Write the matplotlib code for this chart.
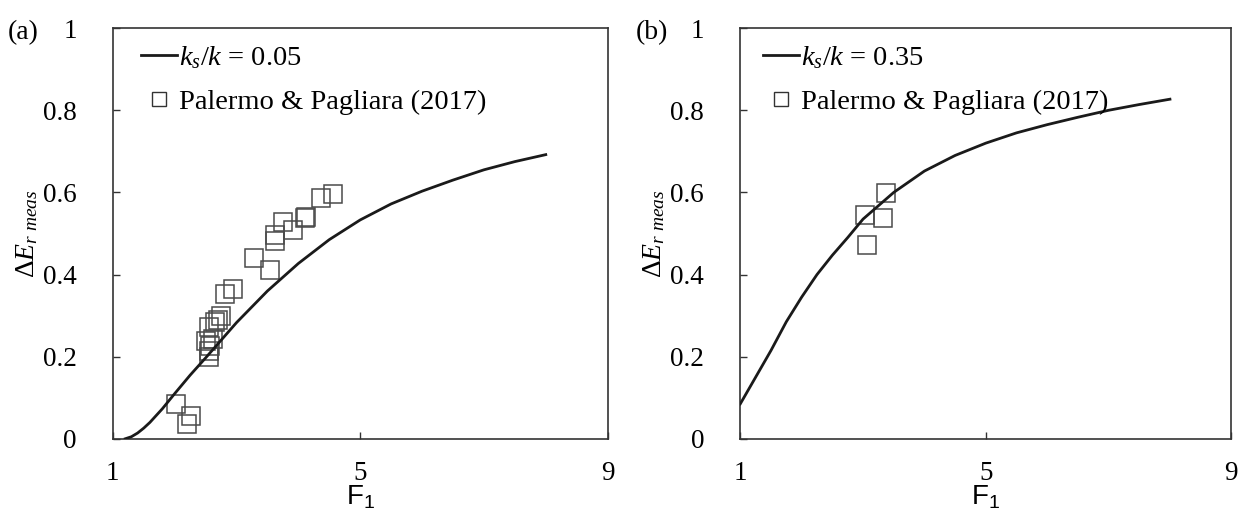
import matplotlib
matplotlib.use('Agg')
import matplotlib.pyplot as plt
from matplotlib.lines import Line2D

plt.rcParams['font.family'] = 'Liberation Serif'
plt.rcParams['mathtext.fontset'] = 'custom'
plt.rcParams['mathtext.rm'] = 'Liberation Serif'
plt.rcParams['mathtext.it'] = 'Liberation Serif:italic'
plt.rcParams['mathtext.sf'] = 'Liberation Sans'

# model curves (F1, dEr)
curve_a_x = [1.2, 1.3, 1.4, 1.5, 1.6, 1.8, 2.0, 2.25, 2.5, 2.75, 3.0, 3.5,
             4.0, 4.5, 5.0, 5.5, 6.0, 6.5, 7.0, 7.5, 8.0]
curve_a_y = [0.0, 0.005, 0.014, 0.026, 0.040, 0.073, 0.11, 0.155, 0.197,
             0.24, 0.283, 0.36, 0.427, 0.485, 0.533, 0.572, 0.603, 0.630,
             0.655, 0.675, 0.692]
curve_b_x = [1.0, 1.25, 1.5, 1.75, 2.0, 2.25, 2.5, 2.75, 3.0, 3.5, 4.0, 4.5,
             5.0, 5.5, 6.0, 6.5, 7.0, 7.5, 8.0]
curve_b_y = [0.085, 0.15, 0.215, 0.285, 0.345, 0.40, 0.447, 0.49, 0.535, 0.60,
             0.652, 0.69, 0.72, 0.745, 0.765, 0.783, 0.80, 0.814, 0.827]

# measured data, Palermo & Pagliara (2017)
meas_a_x = [2.02, 2.27, 2.20, 2.56, 2.55, 2.57, 2.50, 2.62, 2.56, 2.65, 2.70,
            2.75, 2.81, 2.95, 3.28, 3.54, 3.62, 3.63, 3.75, 3.91, 4.10, 4.13,
            4.37, 4.56]
meas_a_y = [0.084, 0.056, 0.036, 0.200, 0.214, 0.226, 0.238, 0.242, 0.273,
            0.285, 0.290, 0.298, 0.353, 0.364, 0.440, 0.411, 0.482, 0.497,
            0.527, 0.509, 0.537, 0.541, 0.587, 0.596]
meas_b_x = [3.03, 3.32, 3.38, 3.06]
meas_b_y = [0.545, 0.537, 0.598, 0.473]

labels = ['$k_s/k$ = 0.05', '$k_s/k$ = 0.35']
panels = ['(a)', '(b)']
ref_label = 'Palermo & Pagliara (2017)'
legend_x = [0.057, 0.047]

fig = plt.figure(figsize=(12.4, 5.12), dpi=100)
ax_a = fig.add_axes([0.091, 0.143, 0.399, 0.802])
ax_b = fig.add_axes([0.597, 0.143, 0.396, 0.802])

data = [(ax_a, curve_a_x, curve_a_y, meas_a_x, meas_a_y),
        (ax_b, curve_b_x, curve_b_y, meas_b_x, meas_b_y)]

for i, (ax, cx, cy, mx, my) in enumerate(data):
    ax.plot(cx, cy, color='#1a1a1a', lw=2.0, zorder=3)
    ax.plot(mx, my, ls='none', marker='s', ms=13, mfc='none',
            mec='#4a4a4a', mew=1.1, zorder=2)

    ax.set_xlim(1, 9)
    ax.set_ylim(0, 1)
    ax.set_xticks([1, 5, 9])
    ax.set_yticks([0, 0.2, 0.4, 0.6, 0.8, 1])
    ax.set_yticklabels(['0', '0.2', '0.4', '0.6', '0.8', '1'])
    ax.tick_params(direction='in', length=5, width=1, color='#333333',
                   labelsize=19.5)
    ax.tick_params(axis='y', pad=26)
    ax.tick_params(axis='x', pad=16)
    for s in ax.spines.values():
        s.set_color('#333333')
        s.set_linewidth(1.2)

    ax.set_xlabel(r'$\mathsf{F_1}$', fontsize=20, labelpad=-1.5)
    ax.set_ylabel(r'$\mathit{Δ}\mathit{E}_{r\ meas}$', fontsize=20, labelpad=2)

    handles = [Line2D([], [], color='#1a1a1a', lw=2.0),
               Line2D([], [], ls='none', marker='s', ms=10, mfc='none',
                      mec='#333333', mew=1.0)]
    ax.legend(handles, [labels[i], ref_label], loc='upper left',
              bbox_to_anchor=(legend_x[i], 0.962), frameon=False,
              fontsize=20.5, handlelength=1.25, handletextpad=0.08,
              labelspacing=0.65, borderaxespad=0, borderpad=0)

    ax.text(-0.213, 0.99, panels[i], transform=ax.transAxes, fontsize=20,
            ha='left', va='center')

fig.savefig('out.png', dpi=100)
